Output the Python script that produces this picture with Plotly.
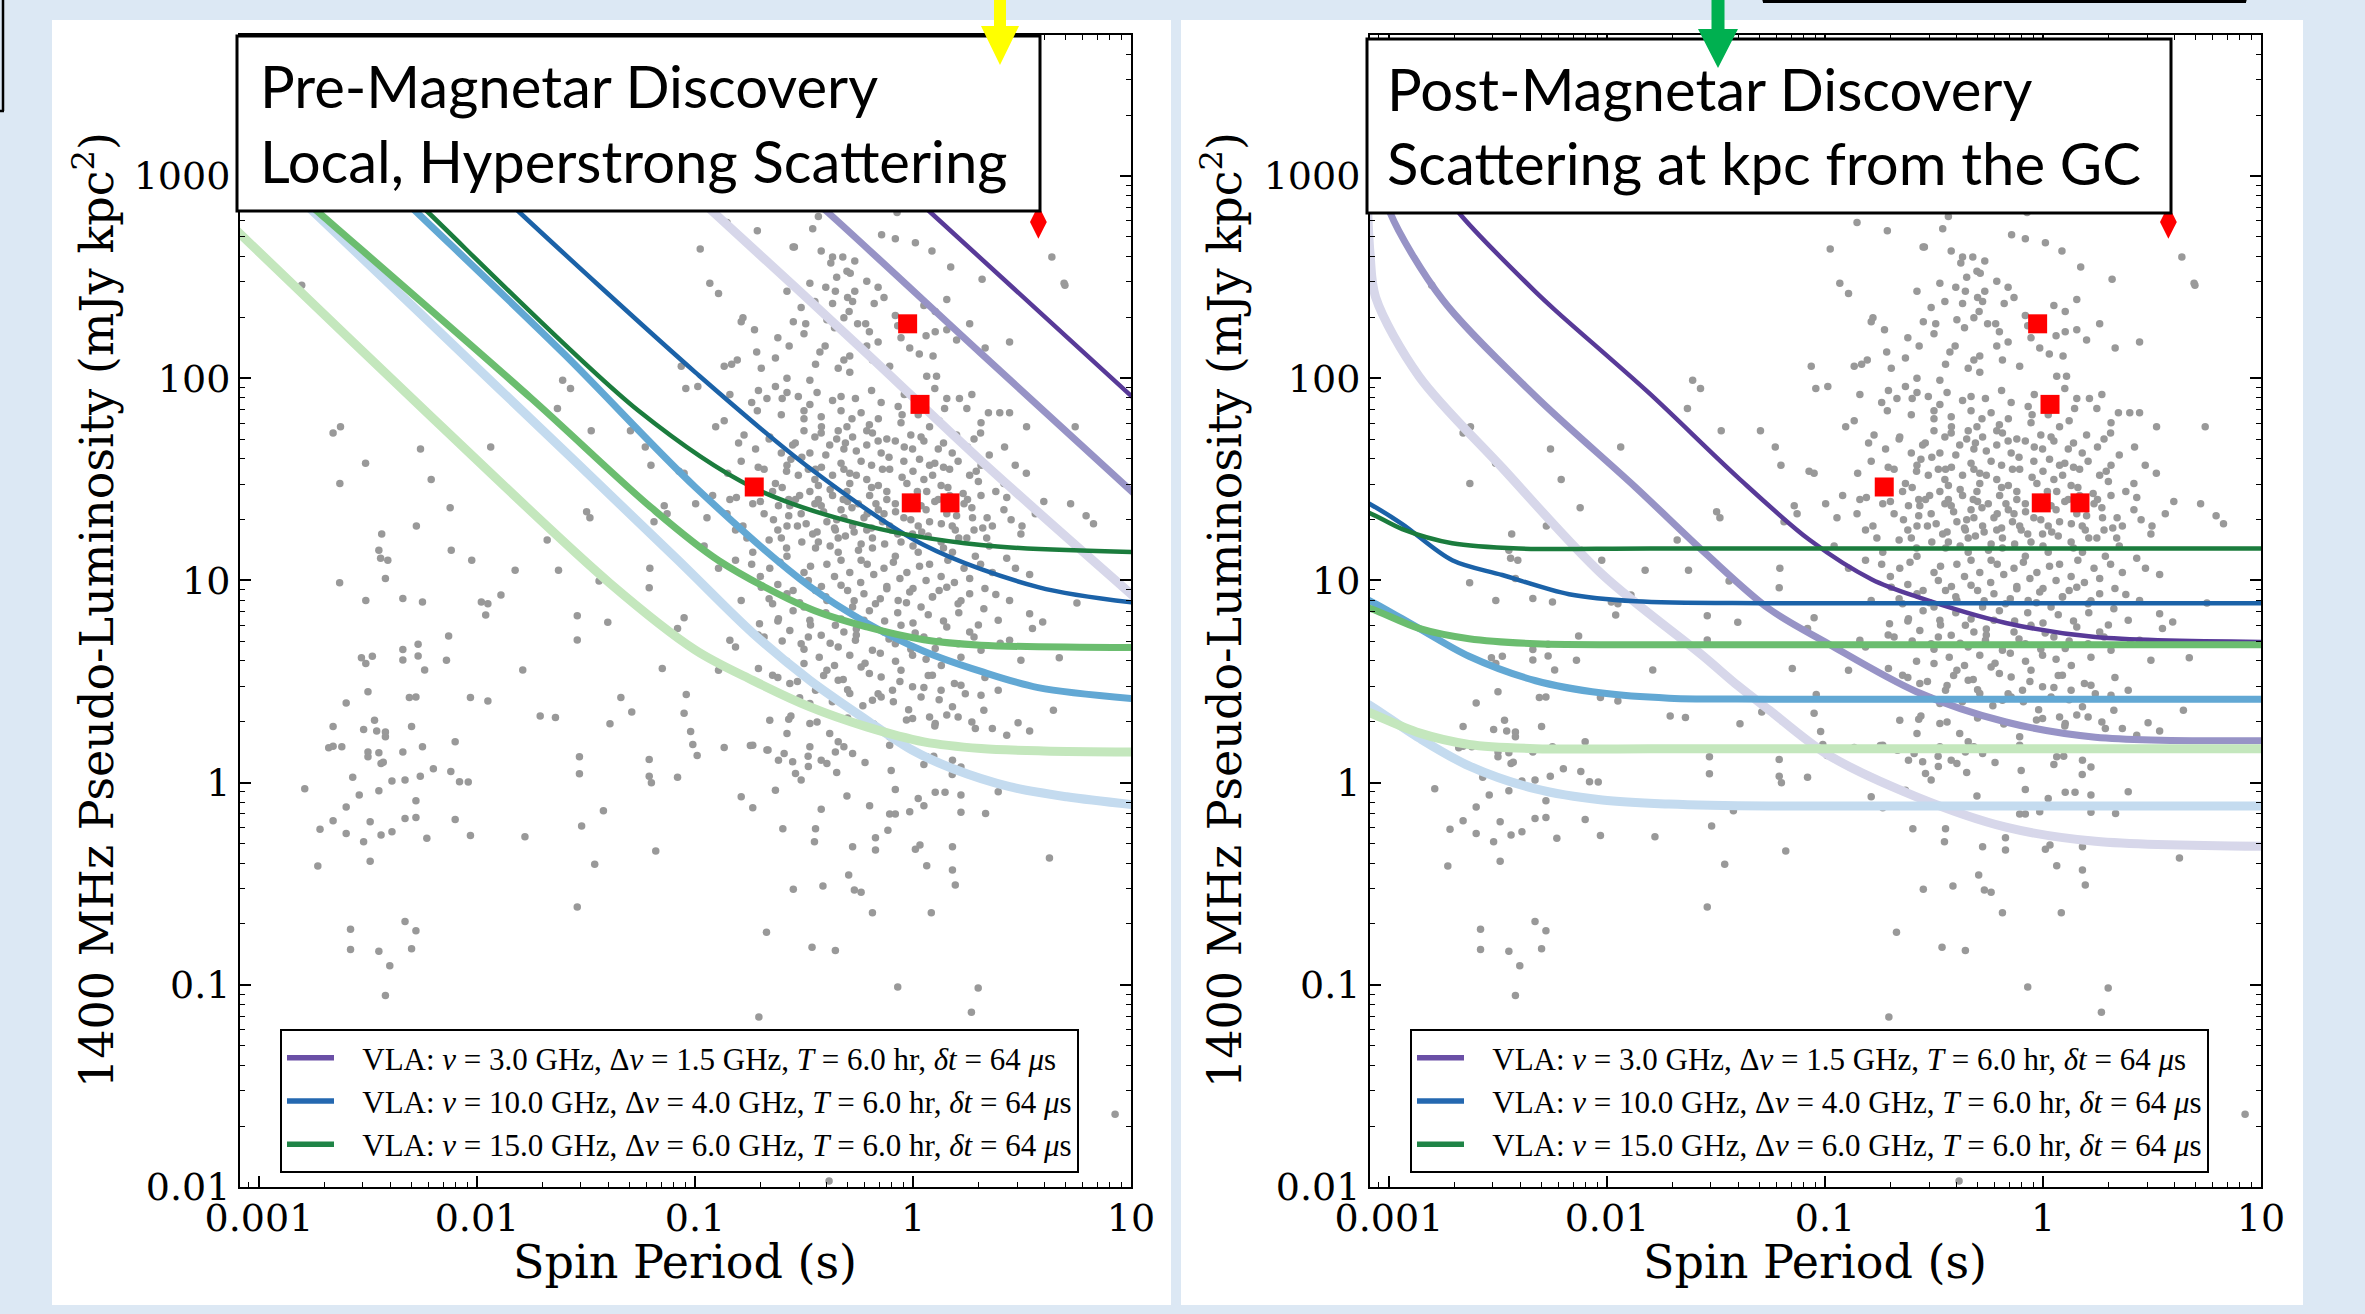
import plotly.graph_objects as go

W, H = 2365, 1314

# ---------------- axis ticks ----------------
x_tickvals = [0.001, 0.01, 0.1, 1, 10]
x_ticktext = ["0.001", "0.01", "0.1", "1", "10"]
y_tickvals = [0.01, 0.1, 1, 10, 100, 1000]
y_ticktext = ["0.01", "0.1", "1", "10", "100", "1000"]
X_RANGE_LOG = [-3.087, 1.0]
Y_RANGE_LOG = [-2.0, 3.698]

# ---------------- pulsar population (log10 P [s], log10 L [mJy kpc^2]) ----------------
psr_log_period = [
    # logL > 2.5
    -0.976, -0.714, -0.544, -0.460, -0.434, -0.421, -0.369, -0.322, -0.144, -0.081,
    -0.073, 0.011, 0.087, 0.637, 0.173, 0.317, 0.697, -0.377, -0.303, -0.267,
    -0.350, -0.288, -0.853, -0.550,
    # 2.3 - 2.5
    -0.212, -0.473, -0.400, -0.267, -0.356, -0.578, -0.513, -0.369, -0.277, -0.133,
    -0.178, 0.155, 0.102, -0.932, -0.892, -0.081, 0.693, -2.804,
    # 2.0 - 2.3
    -0.293, -0.317, -0.217, -0.254, -0.395, -0.549, -0.492, -0.780, -0.788, -0.727,
    0.260, 0.102, 0.155, 0.443, 0.331, 0.092, 0.029, -0.015, -0.107, -0.290,
    -0.343, -0.447, -0.631, -0.696, -0.717, -0.832, -0.866, -0.806, -1.063, -0.568,
    -0.403, -0.427, -0.317, -0.186, -0.290, -0.160, -0.055, -0.212,
    # 1.74 - 2.0
    -0.473, -0.578, -0.631, -0.709, -0.670, -0.578, -0.526, -0.473, -0.369, -0.264,
    -0.146, -0.068, 0.063, 0.108, 0.155, 0.213, 0.247, 0.346, 0.398, 0.443,
    0.145, 0.076, 0.024, -0.055, -0.159, -0.238, -0.330, -0.421, -0.500, -0.604,
    -0.714, -0.905, -0.866, -1.042, -0.987, -1.607, -1.571, -1.631, 0.312, 0.521,
    -0.303, -0.212, 0.744,
    # 1.46 - 1.74
    -1.476, -1.296, -1.228, -1.202, -1.073, -1.050, -0.775, -0.722, -0.657, -0.604,
    -0.552, -0.500, -0.473, -0.421, -0.382, -0.343, -0.317, -0.277, -0.238, -0.212,
    -0.186, -0.146, -0.107, -0.081, -0.042, -0.002, 0.037, 0.076, 0.116, 0.168,
    0.207, 0.260, 0.312, 0.417, 0.469, -0.447, -0.526, -0.578, -0.631, -0.369,
    -0.290, -0.212, -0.159, -0.317, 0.050, 0.129, -0.434, -0.510, -0.683, -0.788,
    -0.028, -2.660, -2.626, -2.511, -2.629, -2.259, -2.210, -1.937,
    # 1.18 - 1.46
    -0.997, -0.919, -0.853, -0.814, -0.735, -0.683, -0.644, -0.617, -0.578, -0.539,
    -0.513, -0.473, -0.460, -0.421, -0.395, -0.369, -0.343, -0.330, -0.303, -0.277,
    -0.251, -0.225, -0.199, -0.186, -0.159, -0.120, -0.107, -0.081, -0.042, -0.002,
    0.037, 0.063, 0.076, 0.116, 0.155, 0.194, 0.234, 0.273, 0.312, 0.364,
    0.417, 0.495, 0.561, 0.247, 0.129, -0.055, -0.238, -0.434, -0.604, -0.762,
    -0.840, -0.945, -1.128, -1.141, -0.434, -0.317, -0.212, -0.133, 0.024, 0.168,
    0.338, -0.565, -0.356, -0.028, 0.723, 0.794, 0.828, -2.123, -2.437, -2.278,
    -1.497, -1.482, -1.188, -1.678,
    # 1.0 - 1.18
    -0.814, -0.735, -0.657, -0.578, -0.500, -0.447, -0.395, -0.343, -0.290, -0.238,
    -0.186, -0.133, -0.081, -0.028, 0.024, 0.076, 0.129, 0.181, 0.234, 0.286,
    0.364, 0.430, 0.535, -0.892, -0.958, -1.207, -1.626, -1.825, -2.024, -2.118,
    -2.409, -2.450, -2.442,
    # 0.85 - 1.0
    -0.788, -0.696, -0.644, -0.578, -0.500, -0.447, -0.395, -0.330, -0.277, -0.225,
    -0.172, -0.120, -0.068, -0.015, 0.037, 0.089, 0.155, 0.207, 0.260, 0.325,
    0.443, 0.535, 0.752, 0.595, 0.548,
    # 0.6 - 0.85
    -0.840, -0.814, -0.704, -0.683, -0.617, -0.565, -0.513, -0.473, -0.421, -0.356,
    -0.343, -0.317, -0.264, -0.225, -0.186, -0.133, -0.081, -0.055, -0.002, 0.050,
    0.102, 0.155, 0.207, 0.260, 0.312, 0.391, 0.443, 0.495, 0.671, -0.892,
    -1.150,
    # 0.36 - 0.6
    -0.709, -0.644, -0.565, -0.500, -0.447, -0.395, -0.343, -0.290, -0.238, -0.186,
    -0.146, -0.094, -0.055, -0.002, 0.037, 0.089, 0.129, 0.181, 0.220, 0.312,
    0.391, 0.644, 0.325, -0.473, -0.146,
    # 0.11 - 0.36
    -0.657, -0.578, -0.473, -0.382, -0.343, -0.317, -0.277, -0.356, -0.395, -0.421,
    -0.107, -0.002, 0.076, 0.102, 0.155, 0.207, 0.286, 0.364, 0.430, 0.482,
    0.535, 0.181, 0.063, 0.095, -0.107, -0.473, -0.552, -0.591, -0.617, -0.670,
    -0.735, -0.866, -0.481,
    # -0.1 - 0.11
    -0.539, -0.513, -0.788, -0.631, -0.303, -0.081, 0.024, 0.102, 0.147, 0.220,
    0.391, 0.220,
    # faint tail of the main population
    -0.735, -0.421, -0.199, -0.107, -0.081, -0.015, 0.050, 0.220, 0.333, -0.597,
    -0.447, -0.452, -0.277, -0.172, -0.172, -0.115, 0.011, 0.032, 0.063, 0.181,
    0.181, 0.194, -0.295, -0.269, -0.238, -0.549, -0.413, -0.186, 0.084, 0.626,
    -0.672, -0.463, -0.356, -0.070, 0.299, 0.268, -0.707, 0.927, -0.385,
    # millisecond / short-period pulsars, faint
    -1.18, -1.46, -1.54, -1.52, -1.42, -1.78, -2.03, -2.10, -2.23, -2.28,
    -2.28, -2.33, -2.39, -2.44, -2.49, -2.52, -2.49, -2.60, -2.66, -2.72,
    -2.73, -2.60, -2.54, -2.45, -2.57, -2.79, -2.39, -2.33, -2.26, -2.20,
    -2.12, -2.08, -2.04, -2.58, -2.33, -2.28, -2.58, -2.45, -2.30, -2.40,
    -2.42,
    # millisecond / short-period pulsars, brighter
    -2.63, -2.42, -2.51, -2.34, -2.25, -1.98, -1.95, -1.89, -1.44, -1.96,
    -1.54, -1.40, -1.21, -1.05, -1.08, -1.54, -2.13, -2.27, -2.34, -2.27,
    -2.53, -2.48, -2.51, -2.34, -2.14, -2.24, -1.79, -2.50, -2.60, -2.31,
    -2.28, -2.03, -1.95, -1.71, -1.64, -1.29, -1.34, -1.04, -1.05, -1.39,
    -2.66, -2.52, -2.47, -2.46, -2.42, -2.42, -2.30, -2.10, -2.68, -2.66,
    -2.62, -2.50, -2.45, -2.50, -2.44, -2.43, -2.34, -2.25, -1.53, -1.21,
    -1.01, -0.99, -1.02, -1.53, -1.21, -1.20, -1.08, -0.746, -0.665, -0.570,
    # dense core of the main population
    -0.70, -0.62, -0.55, -0.48, -0.42, -0.36, -0.30, -0.24, -0.18, -0.12,
    -0.06, 0.00, 0.06, 0.12, 0.19, 0.26, 0.33, -0.66, -0.58, -0.51,
    -0.44, -0.38, -0.31, -0.25, -0.19, -0.13, -0.07, 0.00, 0.07, 0.14,
    0.21, 0.28, 0.35, -0.64, -0.57, -0.49, -0.41, -0.35, -0.28, -0.21,
    -0.14, -0.08, -0.01, 0.06, 0.13, 0.20, 0.27, 0.34, 0.45, -0.60,
    -0.52, -0.45, -0.38, -0.32, -0.26, -0.19, -0.12, -0.05, 0.02, 0.09,
    0.16, 0.23, 0.30, 0.38, -0.56, -0.48, -0.40, -0.33, -0.26, -0.19,
    -0.11, -0.04, 0.03, 0.10, 0.18, 0.25, 0.35, -0.50, -0.42, -0.35,
    -0.28, -0.20, -0.12, -0.05, 0.05, 0.12, 0.20, 0.28, -0.62, -0.55,
    -0.47, -0.40, -0.33, -0.26, -0.20, -0.13, -0.07, 0.00, 0.07, 0.14,
    0.21, 0.30, -0.58, -0.50, -0.43, -0.36, -0.29, -0.22, -0.15, -0.08,
    -0.01, 0.06, 0.13, 0.22, -0.52, -0.44, -0.37, -0.30, -0.23, -0.16,
    -0.09, -0.02, 0.05, 0.12, 0.24,
    # dense core, second layer
    -0.66, -0.52, -0.40, -0.27, -0.15, -0.03, 0.09, 0.22, 0.38,
    -0.74, -0.61, -0.47, -0.33, -0.21, -0.09, 0.03, 0.16, 0.31, 0.47,
    -0.78, -0.62, -0.53, -0.36, -0.27, -0.10, 0.04, 0.18, 0.32, 0.50,
    -0.81, -0.70, -0.57, -0.45, -0.30, -0.17, -0.01, 0.10, 0.25, 0.43, 0.60,
    -0.85, -0.71, -0.58, -0.42, -0.29, -0.14, 0.00, 0.14, 0.29, 0.52,
    -0.80, -0.66, -0.54, -0.45, -0.31, -0.16, -0.01, 0.14, 0.31, 0.42,
    -0.84, -0.74, -0.60, -0.44, -0.33, -0.19, -0.04, 0.10, 0.27,
    -0.62, -0.50, -0.36, -0.20, -0.07, 0.06, 0.20, -0.45, -0.30, -0.16, 0.05,
    -0.71, -0.60, -0.48, -0.38, -0.26, -0.11, 0.01, 0.12, 0.28, 0.40,
    -0.62, -0.53, -0.41, -0.32, -0.20, -0.06, 0.07, 0.19, 0.33,
    -0.56, -0.44, -0.30, -0.18, -0.03, 0.10, 0.27,
    -0.48, -0.35, -0.22, -0.10, 0.05, 0.18,
]
psr_log_lum = [
    2.64, 2.73, 2.65, 2.74, 2.80, 2.63, 2.60, 2.60, 2.71, 2.69,
    2.82, 2.67, 2.63, 2.60, 2.55, 2.49, 2.46, 2.57, 2.53, 2.58,
    2.50, 2.52, 2.77, 2.65,
    2.48, 2.47, 2.45, 2.43, 2.43, 2.43, 2.35, 2.37, 2.38, 2.40,
    2.37, 2.39, 2.33, 2.47, 2.42, 2.31, 2.47, 2.46,
    2.33, 2.30, 2.27, 2.27, 2.29, 2.28, 2.27, 2.30, 2.28, 2.24,
    2.27, 2.23, 2.24, 2.18, 2.15, 2.11, 2.12, 2.15, 2.06, 2.03,
    2.05, 2.07, 2.10, 2.05, 2.13, 2.07, 2.06, 2.09, 2.06, 2.16,
    2.16, 2.13, 2.09, 2.09, 2.11, 2.18, 2.20, 2.16,
    1.99, 2.00, 1.96, 1.94, 1.90, 1.93, 1.91, 1.87, 1.89, 1.90,
    1.88, 1.86, 2.01, 2.01, 1.90, 1.90, 1.85, 1.83, 1.83, 1.83,
    1.85, 1.76, 1.82, 1.78, 1.80, 1.83, 1.84, 1.81, 1.84, 1.82,
    1.84, 1.76, 1.79, 1.95, 1.96, 1.99, 1.95, 1.85, 1.78, 1.76,
    1.76, 1.74, 1.76,
    1.74, 1.74, 1.66, 1.57, 1.54, 1.53, 1.72, 1.65, 1.71, 1.63,
    1.67, 1.74, 1.63, 1.73, 1.67, 1.74, 1.65, 1.71, 1.59, 1.67,
    1.73, 1.63, 1.55, 1.69, 1.59, 1.65, 1.71, 1.57, 1.65, 1.55,
    1.59, 1.52, 1.57, 1.48, 1.57, 1.55, 1.52, 1.57, 1.48, 1.52,
    1.48, 1.50, 1.47, 1.55, 1.50, 1.47, 1.47, 1.61, 1.55, 1.59,
    1.48, 1.73, 1.76, 1.58, 1.48, 1.65, 1.50, 1.66,
    1.38, 1.42, 1.33, 1.25, 1.38, 1.33, 1.44, 1.37, 1.27, 1.40,
    1.33, 1.44, 1.23, 1.37, 1.29, 1.42, 1.21, 1.35, 1.44, 1.27,
    1.38, 1.31, 1.42, 1.21, 1.35, 1.44, 1.27, 1.38, 1.31, 1.23,
    1.37, 1.44, 1.29, 1.40, 1.33, 1.25, 1.38, 1.31, 1.42, 1.27,
    1.35, 1.23, 1.33, 1.21, 1.19, 1.19, 1.18, 1.19, 1.21, 1.21,
    1.40, 1.31, 1.33, 1.37, 1.40, 1.31, 1.25, 1.33, 1.27, 1.42,
    1.21, 1.37, 1.25, 1.37, 1.38, 1.32, 1.28, 1.36, 1.23, 1.27,
    1.34, 1.31, 1.29, 1.20,
    1.10, 1.14, 1.06, 1.12, 1.04, 1.16, 1.08, 1.14, 1.04, 1.10,
    1.16, 1.06, 1.12, 1.04, 1.14, 1.08, 1.02, 1.14, 1.06, 1.12,
    1.04, 1.11, 1.03, 1.06, 1.17, 1.06, 1.05, 1.05, 1.10, 1.15,
    1.10, 1.15, 1.11,
    0.901, 0.967, 0.885, 0.934, 0.869, 0.951, 0.901, 0.976, 0.869, 0.934,
    0.885, 0.959, 0.901, 0.943, 0.869, 0.918, 0.967, 0.885, 0.934, 0.860,
    0.901, 0.836, 0.888, 0.794, 0.762,
    0.704, 0.671, 0.786, 0.720, 0.811, 0.753, 0.687, 0.803, 0.729, 0.778,
    0.671, 0.745, 0.704, 0.803, 0.655, 0.745, 0.687, 0.778, 0.630, 0.720,
    0.663, 0.770, 0.687, 0.745, 0.655, 0.803, 0.704, 0.605, 0.618, 0.556,
    0.564,
    0.564, 0.531, 0.490, 0.589, 0.457, 0.556, 0.506, 0.441, 0.572, 0.408,
    0.523, 0.457, 0.556, 0.474, 0.424, 0.531, 0.457, 0.375, 0.482, 0.432,
    0.457, 0.358, 0.358, 0.391, 0.424,
    0.309, 0.243, 0.292, 0.243, 0.202, 0.177, 0.144, 0.152, 0.095, 0.111,
    0.227, 0.317, 0.325, 0.292, 0.334, 0.325, 0.268, 0.268, 0.235, 0.296,
    0.256, 0.111, 0.128, 0.130, 0.185, 0.177, 0.103, 0.144, 0.111, 0.161,
    0.185, 0.174, 0.131,
    0.045, 0.013, -0.070, -0.037, -0.066, -0.034, -0.078, -0.048, -0.048, -0.061,
    -0.045, 0.078,
    -0.124, -0.131, -0.114, -0.155, -0.155, -0.144, -0.114, -0.147, -0.152, -0.228,
    -0.228, -0.292, -0.317, -0.272, -0.333, -0.235, -0.330, -0.308, -0.411, -0.317,
    -0.432, -0.506, -0.457, -0.531, -0.542, -0.527, -0.511, -0.643, -0.643, -0.373,
    -0.740, -0.814, -0.830, -1.011, -1.016, -1.136, -1.159, -1.64, -1.97,
    -0.338, -0.404, -0.615, -0.215, -0.139, -0.267, -0.262, -0.182, -0.275, -0.090,
    -0.172, -0.177, -0.243, -0.259, -0.193, -0.292, -0.389, -0.251, -0.188, -0.231,
    -0.412, -0.121, -0.061, -0.040, 0.027, -0.030, 0.008, 0.013, 0.032, 0.069,
    0.055, 0.004, 0.003, -0.725, -0.687, -0.733, -0.825, -0.834, -0.822, -0.906,
    -1.053,
    0.989, 1.01, 0.901, 0.911, 0.893, 0.893, 0.885, 0.928, 0.997, 0.829,
    0.826, 0.793, 0.964, 0.816, 0.762, 0.706, 0.725, 0.684, 0.659, 0.627,
    0.618, 0.625, 0.589, 0.607, 0.605, 0.557, 0.557, 0.449, 0.394, 0.421,
    0.424, 0.421, 0.404, 0.330, 0.322, 0.350, 0.421, 0.436, 0.343, 0.291,
    0.278, 0.263, 0.309, 0.255, 0.251, 0.227, 0.278, 0.202, 0.172, 0.180,
    0.177, 0.152, 0.148, 0.128, 0.095, 0.101, 0.151, 0.177, 0.128, 0.115,
    0.189, 0.134, 0.253, 0.044, 0.032, 0.000, 0.027, 0.184, 0.161, 0.314,
    1.02, 0.98, 0.95, 1.00, 0.97, 1.02, 0.95, 0.99, 1.03, 0.97,
    1.01, 0.96, 1.00, 0.95, 0.99, 1.01, 0.96, 1.20, 1.16, 1.19,
    1.24, 1.17, 1.22, 1.15, 1.26, 1.18, 1.23, 1.17, 1.22, 1.16,
    1.21, 1.25, 1.17, 1.30, 1.32, 1.28, 1.34, 1.30, 1.36, 1.33,
    1.29, 1.34, 1.30, 1.35, 1.28, 1.32, 1.36, 1.31, 1.30, 1.46,
    1.42, 1.50, 1.45, 1.40, 1.52, 1.46, 1.40, 1.51, 1.44, 1.52,
    1.46, 1.43, 1.49, 1.44, 1.60, 1.55, 1.62, 1.58, 1.64, 1.57,
    1.61, 1.66, 1.60, 1.58, 1.63, 1.66, 1.62, 1.80, 1.76, 1.70,
    1.80, 1.77, 1.70, 1.82, 1.69, 1.79, 1.72, 1.70, 0.80, 0.85,
    0.78, 0.84, 0.81, 0.76, 0.85, 0.80, 0.84, 0.79, 0.83, 0.80,
    0.84, 0.78, 0.60, 0.66, 0.62, 0.58, 0.63, 0.59, 0.64, 0.60,
    0.66, 0.61, 0.58, 0.62, 0.42, 0.48, 0.40, 0.46, 0.38, 0.44,
    0.40, 0.36, 0.47, 0.41, 0.44,
    0.91, 0.89, 0.92, 0.90, 0.91, 0.89, 0.92, 0.90, 0.93,
    1.08, 1.09, 1.07, 1.10, 1.08, 1.09, 1.07, 1.10, 1.08, 1.06,
    1.27, 1.25, 1.27, 1.26, 1.24, 1.25, 1.24, 1.27, 1.26, 1.27,
    1.41, 1.39, 1.40, 1.38, 1.39, 1.38, 1.41, 1.39, 1.40, 1.41, 1.39,
    1.53, 1.56, 1.54, 1.56, 1.53, 1.55, 1.54, 1.56, 1.54, 1.53,
    1.68, 1.70, 1.68, 1.71, 1.68, 1.69, 1.72, 1.68, 1.73, 1.66,
    1.92, 1.88, 1.90, 1.93, 1.91, 1.94, 1.92, 1.95, 1.92,
    2.20, 2.22, 2.25, 2.23, 2.26, 2.21, 2.19, 2.38, 2.40, 2.45, 2.36,
    0.73, 0.70, 0.72, 0.69, 0.73, 0.71, 0.74, 0.70, 0.72, 0.69,
    0.52, 0.50, 0.53, 0.51, 0.54, 0.50, 0.53, 0.49, 0.52,
    0.33, 0.30, 0.32, 0.29, 0.31, 0.28, 0.30,
    0.08, 0.05, 0.10, 0.06, 0.09, 0.04,
]

# Galactic-centre pulsars (red squares) and the GC magnetar (red diamond)
gc_psr_period = [0.187, 0.945, 1.077, 0.982, 1.478]
gc_psr_lum = [29.0, 186.0, 74.3, 24.2, 24.2]
magnetar_period = [3.76]
magnetar_lum = [593.0]

# ---------------- sensitivity curves (log10 P, log10 L) ----------------
# left panel: local, hyperstrong scattering
L_PUR_LIGHT = [(-1.05, 2.95), (-0.919, 2.825), (-0.212, 2.123), (0.312, 1.592), (1.014, 0.92)]
L_PUR_MED = [(-0.53, 2.95), (-0.395, 2.825), (0.312, 2.123), (1.014, 1.43)]
L_PUR_DARK = [(-0.05, 2.95), (0.076, 2.825), (1.014, 1.90)]
L_BLU_LIGHT = [(-2.95, 3.03), (-2.804, 2.88), (-1.9, 1.95), (-1.076, 1.099), (-0.735, 0.74),
               (-0.473, 0.506), (-0.212, 0.309), (-0.002, 0.16), (0.181, 0.07), (0.443, -0.02),
               (0.705, -0.07), (1.014, -0.11)]
L_BLU_MED = [(-2.40, 2.95), (-2.28, 2.825), (-1.6, 2.12), (-0.997, 1.46), (-0.473, 0.97),
             (-0.212, 0.79), (0.05, 0.65), (0.312, 0.55), (0.574, 0.47), (1.014, 0.415)]
L_BLU_DARK = [(-1.93, 2.95), (-1.809, 2.825), (-0.997, 2.028), (-0.473, 1.555), (0.050, 1.175),
              (0.574, 0.967), (1.014, 0.89)]
L_GRN_LIGHT = [(-3.25, 2.88), (-3.092, 2.72), (-2.2, 1.80), (-1.39, 0.986), (-0.997, 0.655),
               (-0.735, 0.506), (-0.473, 0.375), (-0.212, 0.276), (0.050, 0.202), (0.312, 0.169),
               (0.6, 0.157), (1.014, 0.152)]
L_GRN_MED = [(-2.80, 2.89), (-2.699, 2.795), (-1.75, 1.90), (-1.2, 1.36), (-0.892, 1.099),
             (-0.473, 0.86), (-0.212, 0.77), (0.050, 0.707), (0.312, 0.68), (1.014, 0.668)]
L_GRN_DARK = [(-2.35, 2.95), (-2.228, 2.825), (-1.259, 1.839), (-0.735, 1.46), (-0.212, 1.27),
              (0.312, 1.175), (1.014, 1.14)]

# right panel: scattering at kpc from the GC
R_PUR_LIGHT = [(-3.10, 2.90), (-3.087, 2.62), (-3.061, 2.40), (-2.862, 2.01), (-2.480, 1.557),
               (-2.022, 1.03), (-1.563, 0.63), (-1.400, 0.48), (-1.257, 0.36), (-0.990, 0.14),
               (-0.580, -0.07), (-0.170, -0.22), (0.240, -0.29), (1.014, -0.315)]
R_PUR_MED = [(-3.03, 2.98), (-2.995, 2.82), (-2.755, 2.39), (-2.327, 1.91), (-1.868, 1.46),
             (-1.544, 1.13), (-1.257, 0.86), (-0.990, 0.69), (-0.580, 0.45), (-0.170, 0.30),
             (0.240, 0.225), (1.014, 0.207)]
R_PUR_DARK = [(-2.78, 2.98), (-2.68, 2.82), (-2.33, 2.43), (-2.22, 2.32), (-1.81, 1.93),
              (-1.40, 1.51), (-1.07, 1.20), (-0.785, 1.005), (-0.58, 0.92), (-0.17, 0.79),
              (0.24, 0.72), (1.014, 0.696)]
R_BLU_LIGHT = [(-3.2, 0.45), (-3.092, 0.385), (-2.862, 0.221), (-2.633, 0.083), (-2.327, -0.031),
               (-2.022, -0.086), (-1.716, -0.106), (-1.257, -0.116), (1.014, -0.116)]
R_BLU_MED = [(-3.2, 0.95), (-3.092, 0.902), (-2.862, 0.763), (-2.633, 0.625), (-2.327, 0.504),
             (-2.022, 0.443), (-1.716, 0.418), (-1.257, 0.413), (1.014, 0.413)]
R_BLU_DARK = [(-3.2, 1.44), (-3.092, 1.381), (-2.939, 1.279), (-2.710, 1.10), (-2.480, 1.027),
              (-2.174, 0.932), (-1.868, 0.897), (-1.257, 0.887), (1.014, 0.887)]
R_GRN_LIGHT = [(-3.2, 0.39), (-3.092, 0.347), (-2.862, 0.246), (-2.633, 0.189), (-2.327, 0.168),
               (-1.8, 0.168), (1.014, 0.168)]
R_GRN_MED = [(-3.2, 0.89), (-3.092, 0.864), (-2.862, 0.763), (-2.633, 0.712), (-2.327, 0.687),
             (-1.8, 0.682), (1.014, 0.682)]
R_GRN_DARK = [(-3.2, 1.37), (-3.092, 1.335), (-2.939, 1.254), (-2.710, 1.184), (-2.404, 1.158),
              (-1.8, 1.158), (1.014, 1.158)]

NB = "\u00a0\u00a0\u00a0"
legend_labels = [
    NB + "VLA: <i>ν</i> = 3.0 GHz, Δ<i>ν</i> = 1.5 GHz, <i>T</i> = 6.0 hr, <i>δt</i> = 64 <i>μ</i>s",
    NB + "VLA: <i>ν</i> = 10.0 GHz, Δ<i>ν</i> = 4.0 GHz, <i>T</i> = 6.0 hr, <i>δt</i> = 64 <i>μ</i>s",
    NB + "VLA: <i>ν</i> = 15.0 GHz, Δ<i>ν</i> = 6.0 GHz, <i>T</i> = 6.0 hr, <i>δt</i> = 64 <i>μ</i>s",
]
legend_colors = ["#6a4fa6", "#2468b0", "#1f8446"]

# ---------------- styles ----------------
STYLE = {
    "pur": {"light": ("#d7d7ea", 9), "med": ("#9793c6", 7), "dark": ("#583a98", 4.5)},
    "blu": {"light": ("#c4dbef", 9), "med": ("#62a8d4", 7), "dark": ("#1b62a8", 4.5)},
    "grn": {"light": ("#c4e7bd", 9), "med": ("#6bbd6f", 7), "dark": ("#1b7c3d", 4.5)},
}
LEFT_CURVES = [("pur", "light", L_PUR_LIGHT), ("pur", "med", L_PUR_MED), ("pur", "dark", L_PUR_DARK),
               ("blu", "light", L_BLU_LIGHT), ("blu", "med", L_BLU_MED), ("blu", "dark", L_BLU_DARK),
               ("grn", "light", L_GRN_LIGHT), ("grn", "med", L_GRN_MED), ("grn", "dark", L_GRN_DARK)]
RIGHT_CURVES = [("pur", "light", R_PUR_LIGHT), ("pur", "med", R_PUR_MED), ("pur", "dark", R_PUR_DARK),
                ("blu", "light", R_BLU_LIGHT), ("blu", "med", R_BLU_MED), ("blu", "dark", R_BLU_DARK),
                ("grn", "light", R_GRN_LIGHT), ("grn", "med", R_GRN_MED), ("grn", "dark", R_GRN_DARK)]


def px(x):
    return x / W


def py(y):
    return 1 - y / H


n_psr = min(len(psr_log_period), len(psr_log_lum))
psr_period = [10 ** v for v in psr_log_period[:n_psr]]
psr_lum = [10 ** v for v in psr_log_lum[:n_psr]]

fig = go.Figure()

panels = [("x", "y", "legend", LEFT_CURVES), ("x2", "y2", "legend2", RIGHT_CURVES)]
for xa, ya, leg, curves in panels:
    fig.add_trace(go.Scatter(
        x=psr_period, y=psr_lum, mode="markers", xaxis=xa, yaxis=ya,
        marker=dict(size=7.5, color="#999999", line=dict(width=0)),
        showlegend=False, hoverinfo="skip"))
    for hue, shade, pts in curves:
        col, wid = STYLE[hue][shade]
        fig.add_trace(go.Scatter(
            x=[10 ** p for p, _ in pts], y=[10 ** l for _, l in pts], mode="lines",
            xaxis=xa, yaxis=ya, line=dict(color=col, width=wid, shape="spline", smoothing=0.9),
            showlegend=False, hoverinfo="skip"))
    fig.add_trace(go.Scatter(
        x=gc_psr_period, y=gc_psr_lum, mode="markers", xaxis=xa, yaxis=ya,
        marker=dict(symbol="square", size=19, color="#ff0000", line=dict(width=0)),
        showlegend=False, hoverinfo="skip"))
    fig.add_trace(go.Scatter(
        x=magnetar_period, y=magnetar_lum, mode="markers", xaxis=xa, yaxis=ya,
        marker=dict(symbol="diamond-tall", size=24, color="#ff0000", line=dict(width=0)),
        showlegend=False, hoverinfo="skip"))
    for i, (lab, col) in enumerate(zip(legend_labels, legend_colors)):
        fig.add_trace(go.Scatter(
            x=[None], y=[None], mode="lines", xaxis=xa, yaxis=ya,
            line=dict(color=col, width=5.5), name=lab, legend=leg,
            legendgroup=f"{leg}_{i}", showlegend=True))

minor_x = [k * 10 ** e for e in range(-4, 1) for k in range(2, 10)]
minor_y = [k * 10 ** e for e in range(-2, 4) for k in range(2, 10)]

tickfont = dict(family="DejaVu Serif", size=38, color="black")
common = dict(type="log", showline=True, linecolor="black", linewidth=2, mirror="allticks",
              ticks="inside", ticklen=11, tickwidth=1.5, tickcolor="black", showgrid=False,
              zeroline=False, tickfont=tickfont, automargin=False)
xcommon = dict(common, range=X_RANGE_LOG, tickmode="array", tickvals=x_tickvals, ticktext=x_ticktext,
               ticklabelstandoff=-4,
               minor=dict(ticks="inside", ticklen=5, tickwidth=1, tickcolor="black",
                          tickmode="array", tickvals=minor_x, showgrid=False))
ycommon = dict(common, range=Y_RANGE_LOG, tickmode="array", tickvals=y_tickvals, ticktext=y_ticktext,
               minor=dict(ticks="inside", ticklen=5, tickwidth=1, tickcolor="black",
                          tickmode="array", tickvals=minor_y, showgrid=False))

ydom = [py(1187), py(35)]
legend_common = dict(xanchor="left", yanchor="bottom", bgcolor="white", bordercolor="black",
                     borderwidth=2, font=dict(family="Liberation Serif", size=31, color="black"),
                     tracegroupgap=0, itemwidth=47)

fig.update_layout(
    width=W, height=H, autosize=False,
    margin=dict(l=0, r=0, t=0, b=0, pad=0, autoexpand=False),
    paper_bgcolor="#dce8f4", plot_bgcolor="white",
    xaxis=dict(xcommon, domain=[px(240), px(1131)], anchor="y"),
    yaxis=dict(ycommon, domain=ydom, anchor="x"),
    xaxis2=dict(xcommon, domain=[px(1370), px(2261)], anchor="y2"),
    yaxis2=dict(ycommon, domain=ydom, anchor="x2"),
    legend=dict(legend_common, x=px(280), y=py(1173)),
    legend2=dict(legend_common, x=px(1410), y=py(1173)),
)

shapes = []
# white slide panels
for x0, x1 in [(52, 1171), (1181, 2303)]:
    shapes.append(dict(type="rect", xref="paper", yref="paper", x0=px(x0), x1=px(x1),
                       y0=py(1305), y1=py(20), fillcolor="white", line=dict(width=0), layer="below"))
# cropped boxes at the image edge (drawn as lines, within the figure)
edge_lines = [(3, 0, 3, 111, 2.5), (0, 111, 4, 111, 2.5),
              (1763, 1.5, 2246, 1.5, 3), (1764, 0, 1764, 1.5, 3), (2245, 0, 2245, 1.5, 3)]
for x0, y0, x1, y1, w in edge_lines:
    shapes.append(dict(type="line", xref="paper", yref="paper", x0=px(x0), y0=py(y0),
                       x1=px(x1), y1=py(y1), line=dict(color="black", width=w), layer="above"))
# title boxes
for x0, x1, y0, y1 in [(237, 1040, 36, 211), (1367, 2171, 39, 213)]:
    shapes.append(dict(type="rect", xref="paper", yref="paper", x0=px(x0), x1=px(x1),
                       y0=py(y1), y1=py(y0), fillcolor="white", line=dict(color="black", width=3),
                       layer="above"))


def arrow_path(cx, shaft_w, head_w, head_top, tip):
    pts = [(cx - shaft_w / 2, 0), (cx + shaft_w / 2, 0), (cx + shaft_w / 2, head_top),
           (cx + head_w / 2, head_top), (cx, tip), (cx - head_w / 2, head_top),
           (cx - shaft_w / 2, head_top)]
    return "M " + " L ".join(f"{px(a):.5f},{py(b):.5f}" for a, b in pts) + " Z"


shapes.append(dict(type="path", xref="paper", yref="paper", path=arrow_path(1000, 12, 38, 26, 65),
                   fillcolor="#ffff00", line=dict(width=0), layer="above"))
shapes.append(dict(type="path", xref="paper", yref="paper", path=arrow_path(1718, 13, 40, 29, 68),
                   fillcolor="#00b050", line=dict(width=0), layer="above"))
fig.update_layout(shapes=shapes)

ann = []
title_font = dict(family="Lato", size=58, color="black")
for x, y, t in [(258, 85, "Pre-Magnetar Discovery"), (258, 160, "Local, Hyperstrong Scattering"),
                (1385, 88, "Post-Magnetar Discovery"), (1385, 163, "Scattering at kpc from the GC")]:
    ann.append(dict(x=px(x), y=py(y), xref="paper", yref="paper", text=t, showarrow=False,
                    xanchor="left", yanchor="middle", font=title_font))
axis_font = dict(family="DejaVu Serif", size=46, color="black")
for cx in [685.5, 1815.5]:
    ann.append(dict(x=px(cx), y=py(1262), xref="paper", yref="paper", text="Spin Period (s)",
                    showarrow=False, xanchor="center", yanchor="middle", font=axis_font))
for cx in [94, 1222]:
    ann.append(dict(x=px(cx), y=py(610), xref="paper", yref="paper",
                    text="1400 MHz Pseudo-Luminosity (mJy kpc<sup>2</sup>)", textangle=-90,
                    showarrow=False, xanchor="center", yanchor="middle", font=axis_font))
fig.update_layout(annotations=ann)

fig.write_html("out.html", config={"displayModeBar": False},
               post_script="document.body.style.margin='0px';")
